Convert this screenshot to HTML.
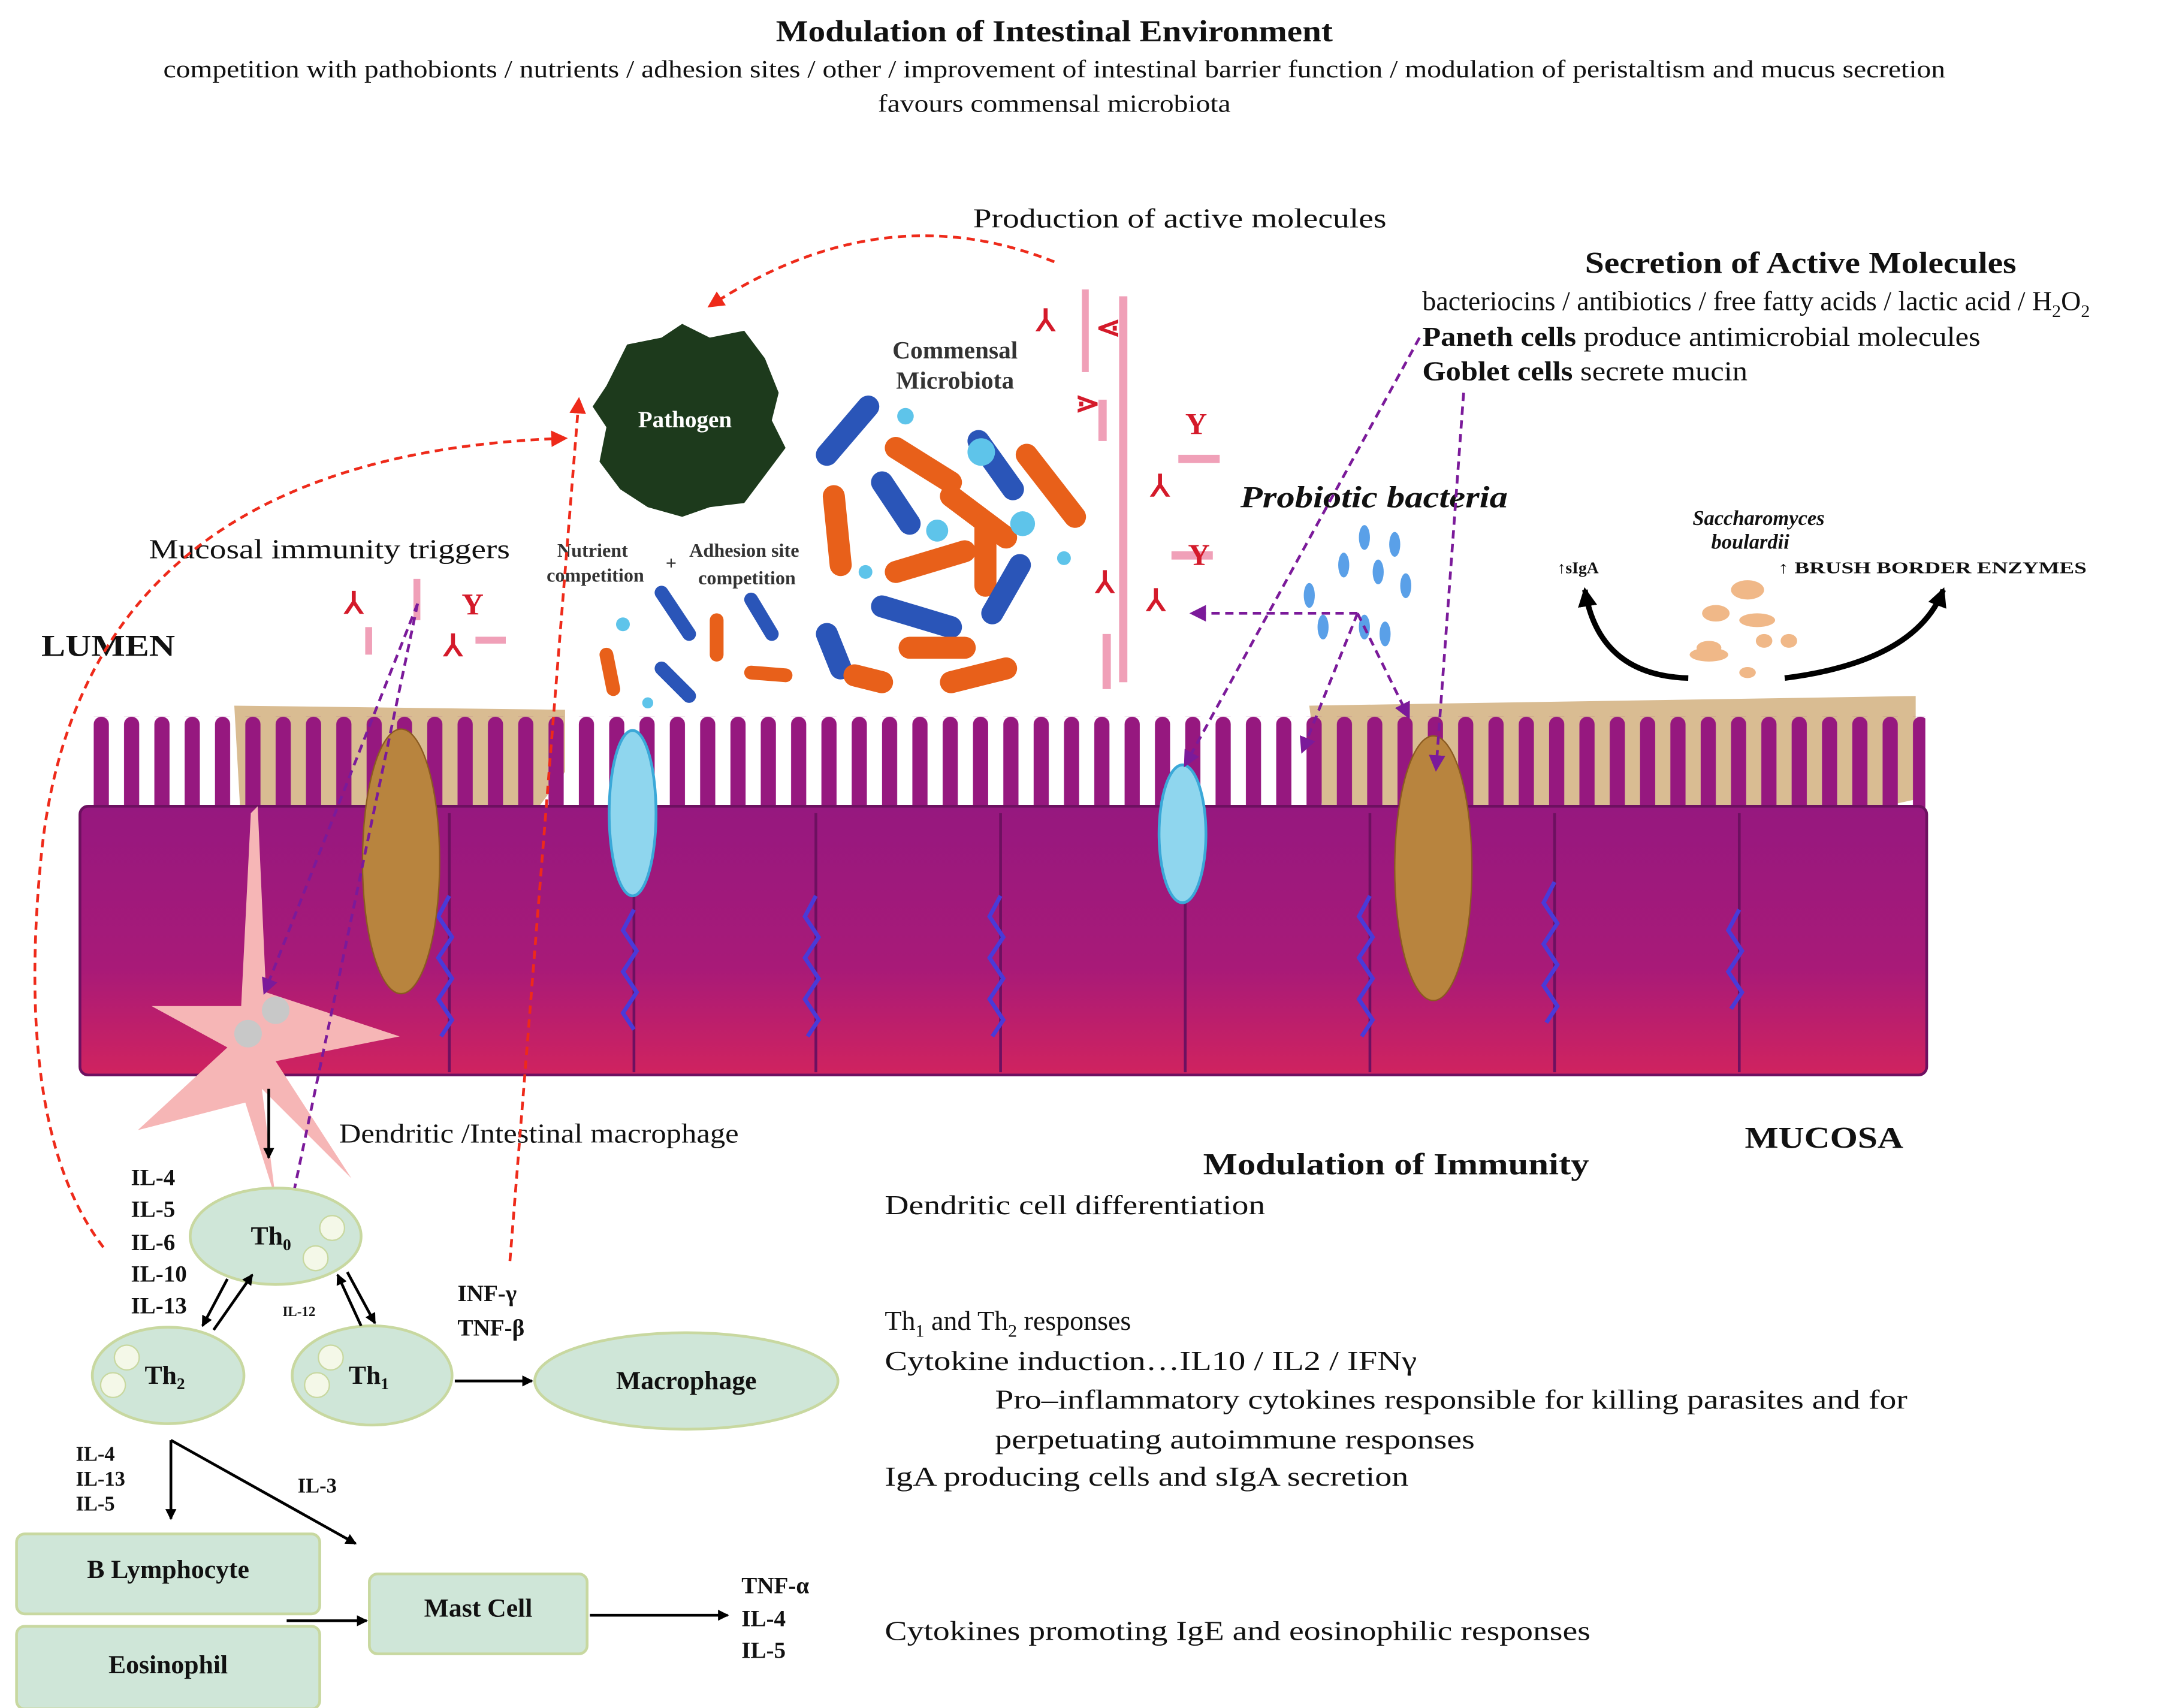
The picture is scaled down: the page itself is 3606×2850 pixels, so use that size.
<!DOCTYPE html>
<html><head><meta charset="utf-8"><style>
html,body{margin:0;padding:0;background:#fff}
svg{display:block}
text{font-family:"Liberation Serif",serif;fill:#111}
</style></head><body>
<svg width="3606" height="2850" viewBox="0 0 1568 1239.3" preserveAspectRatio="none" xmlns="http://www.w3.org/2000/svg">
<defs>
<linearGradient id="cell" x1="0" y1="0" x2="0" y2="1">
<stop offset="0" stop-color="#96187f"/><stop offset="0.6" stop-color="#a81a78"/><stop offset="1" stop-color="#d0235f"/></linearGradient>
<pattern id="villi" x="62" y="520" width="22" height="80" patternUnits="userSpaceOnUse">
<rect x="6" y="0" width="11" height="90" rx="5.5" fill="#96187f"/>
</pattern>
<marker id="ab" markerWidth="8" markerHeight="8" refX="7" refY="4" orient="auto" markerUnits="userSpaceOnUse"><path d="M0,0 L8,4 L0,8z" fill="#000"/></marker>
<marker id="ar" markerWidth="12" markerHeight="12" refX="10" refY="6" orient="auto" markerUnits="userSpaceOnUse"><path d="M0,0 L12,6 L0,12z" fill="#ee2a1a"/></marker>
<marker id="ap" markerWidth="12" markerHeight="12" refX="10" refY="6" orient="auto" markerUnits="userSpaceOnUse"><path d="M0,0 L12,6 L0,12z" fill="#7b1a9a"/></marker>
<marker id="ak" markerWidth="14" markerHeight="14" refX="12" refY="7" orient="auto" markerUnits="userSpaceOnUse"><path d="M0,0 L14,7 L0,14z" fill="#000"/></marker>
</defs>

<!-- Header text -->
<text x="765" y="30" font-size="22" font-weight="bold" text-anchor="middle" textLength="404" lengthAdjust="spacingAndGlyphs">Modulation of Intestinal Environment</text>
<text x="765" y="56" font-size="18" text-anchor="middle" textLength="1293" lengthAdjust="spacingAndGlyphs">competition with pathobionts / nutrients / adhesion sites / other / improvement of intestinal barrier function / modulation of peristaltism and mucus secretion</text>
<text x="765" y="81" font-size="18" text-anchor="middle" textLength="256" lengthAdjust="spacingAndGlyphs">favours commensal microbiota</text>
<text x="706" y="165" font-size="20" textLength="300" lengthAdjust="spacingAndGlyphs">Production of active molecules</text>
<text x="1150" y="198" font-size="22" font-weight="bold" textLength="313" lengthAdjust="spacingAndGlyphs">Secretion of Active Molecules</text>
<text x="1032" y="225" font-size="20">bacteriocins / antibiotics / free fatty acids / lactic acid / H<tspan font-size="13" dy="5">2</tspan><tspan dy="-5">O</tspan><tspan font-size="13" dy="5">2</tspan></text>
<text x="1032" y="251" font-size="20" textLength="405" lengthAdjust="spacingAndGlyphs"><tspan font-weight="bold">Paneth cells</tspan> produce antimicrobial molecules</text>
<text x="1032" y="276" font-size="20" textLength="236" lengthAdjust="spacingAndGlyphs"><tspan font-weight="bold">Goblet cells</tspan> secrete mucin</text>

<!-- mucus -->
<path d="M170,512 L410,515 L410,560 L380,600 L175,600z" fill="#c9a064" opacity="0.7"/>
<path d="M950,512 L1390,505 L1390,580 L1300,600 L960,590z" fill="#c9a064" opacity="0.7"/>
<!-- epithelium -->
<rect x="62" y="520" width="1335" height="70" fill="url(#villi)"/>
<rect x="58" y="585" width="1340" height="195" rx="6" fill="url(#cell)" stroke="#6d1060" stroke-width="2"/>
<g stroke="#6d1060" stroke-width="2">
<line x1="326" y1="590" x2="326" y2="778"/><line x1="460" y1="590" x2="460" y2="778"/><line x1="592" y1="590" x2="592" y2="778"/><line x1="726" y1="590" x2="726" y2="778"/><line x1="860" y1="590" x2="860" y2="778"/><line x1="994" y1="590" x2="994" y2="778"/><line x1="1128" y1="590" x2="1128" y2="778"/><line x1="1262" y1="590" x2="1262" y2="778"/></g>
<g stroke="#4a3ad8" stroke-width="3" fill="none">
<path d="M326,650 l-8,15 l10,15 l-10,15 l10,15 l-10,15 l10,15 l-8,12"/>
<path d="M460,660 l-8,15 l10,15 l-10,15 l10,15 l-10,15 l8,12"/>
<path d="M592,650 l-8,15 l10,15 l-10,15 l10,15 l-10,15 l10,15 l-8,12"/>
<path d="M726,650 l-8,15 l10,15 l-10,15 l10,15 l-10,15 l10,15 l-8,12"/>
<path d="M994,650 l-8,15 l10,15 l-10,15 l10,15 l-10,15 l10,15 l-8,12"/>
<path d="M1128,640 l-8,15 l10,15 l-10,15 l10,15 l-10,15 l10,15 l-8,12"/>
<path d="M1262,660 l-8,15 l10,15 l-10,15 l10,15 l-8,12"/></g>
<ellipse cx="291" cy="625" rx="28" ry="96" fill="#b8843e" stroke="#8a5a20"/>
<ellipse cx="1040" cy="630" rx="28" ry="96" fill="#b8843e" stroke="#8a5a20"/>
<ellipse cx="459" cy="590" rx="17" ry="60" fill="#8fd6ee" stroke="#3aa8d8" stroke-width="2"/>
<ellipse cx="858" cy="605" rx="17" ry="50" fill="#8fd6ee" stroke="#3aa8d8" stroke-width="2"/>

<!-- pathogen -->
<path d="M440,280 L455,250 L480,245 L495,235 L515,245 L540,240 L555,260 L565,285 L560,305 L570,325 L555,345 L540,365 L515,368 L495,375 L470,368 L450,355 L435,335 L440,310 L430,295z" fill="#1d3a1c"/>
<text x="497" y="310" font-family="Liberation Sans,sans-serif" font-size="17" font-weight="bold" style="fill:#fff" text-anchor="middle">Pathogen</text>
<text x="693" y="260" font-family="Liberation Sans,sans-serif" font-size="18" font-weight="bold" text-anchor="middle" style="fill:#333">Commensal</text>
<text x="693" y="282" font-family="Liberation Sans,sans-serif" font-size="18" font-weight="bold" text-anchor="middle" style="fill:#333">Microbiota</text>

<!-- bacteria -->
<g stroke-linecap="round" fill="none" stroke-width="16">
<line x1="600" y1="330" x2="630" y2="295" stroke="#2a55b8"/>
<line x1="650" y1="325" x2="690" y2="350" stroke="#e8601a"/>
<line x1="710" y1="320" x2="735" y2="355" stroke="#2a55b8"/>
<line x1="605" y1="360" x2="610" y2="410" stroke="#e8601a"/>
<line x1="640" y1="350" x2="660" y2="380" stroke="#2a55b8"/>
<line x1="690" y1="360" x2="730" y2="390" stroke="#e8601a"/>
<line x1="745" y1="330" x2="780" y2="375" stroke="#e8601a"/>
<line x1="650" y1="415" x2="700" y2="400" stroke="#e8601a"/>
<line x1="715" y1="380" x2="715" y2="425" stroke="#e8601a"/>
<line x1="740" y1="410" x2="720" y2="445" stroke="#2a55b8"/>
<line x1="640" y1="440" x2="690" y2="455" stroke="#2a55b8"/>
<line x1="660" y1="470" x2="700" y2="470" stroke="#e8601a"/>
<line x1="690" y1="495" x2="730" y2="485" stroke="#e8601a"/>
<line x1="600" y1="460" x2="610" y2="485" stroke="#2a55b8"/>
<line x1="620" y1="490" x2="640" y2="495" stroke="#e8601a"/>
<line x1="480" y1="430" x2="500" y2="460" stroke="#2a55b8" stroke-width="10"/>
<line x1="520" y1="450" x2="520" y2="475" stroke="#e8601a" stroke-width="10"/>
<line x1="545" y1="435" x2="560" y2="460" stroke="#2a55b8" stroke-width="10"/>
<line x1="440" y1="475" x2="445" y2="500" stroke="#e8601a" stroke-width="10"/>
<line x1="480" y1="485" x2="500" y2="505" stroke="#2a55b8" stroke-width="10"/>
<line x1="545" y1="488" x2="570" y2="490" stroke="#e8601a" stroke-width="10"/>
</g>
<g fill="#5ec4ea"><circle cx="657" cy="302" r="6"/><circle cx="712" cy="328" r="10"/><circle cx="680" cy="385" r="8"/><circle cx="742" cy="380" r="9"/><circle cx="628" cy="415" r="5"/><circle cx="772" cy="405" r="5"/><circle cx="452" cy="453" r="5"/><circle cx="470" cy="510" r="4"/></g>
<!-- molecules column -->
<g fill="#f0a0b8"><rect x="785" y="210" width="5" height="60"/><rect x="812" y="215" width="6" height="280"/><rect x="797" y="290" width="6" height="30"/><rect x="855" y="330" width="30" height="6"/><rect x="800" y="460" width="6" height="40"/><rect x="850" y="400" width="30" height="6"/></g>
<g font-family="Liberation Sans,sans-serif" font-weight="bold" font-size="22"><text x="752" y="240" style="fill:#d41a2a">⅄</text><text x="795" y="245" style="fill:#d41a2a">⋖</text><text x="780" y="300" style="fill:#d41a2a">⋗</text><text x="860" y="315" style="fill:#d41a2a">Y</text><text x="835" y="360" style="fill:#d41a2a">⅄</text><text x="795" y="430" style="fill:#d41a2a">⅄</text><text x="862" y="410" style="fill:#d41a2a">Y</text><text x="832" y="443" style="fill:#d41a2a">⅄</text><text x="250" y="445" style="fill:#d41a2a">⅄</text><text x="335" y="446" style="fill:#d41a2a">Y</text><text x="322" y="476" style="fill:#d41a2a">⅄</text></g>
<g fill="#f0a0b8"><rect x="300" y="420" width="5" height="30"/><rect x="345" y="462" width="22" height="5"/><rect x="265" y="455" width="5" height="20"/></g>

<text x="108" y="405" font-size="20" textLength="262" lengthAdjust="spacingAndGlyphs">Mucosal immunity triggers</text>
<text x="30" y="476" font-size="22" font-weight="bold" textLength="97" lengthAdjust="spacingAndGlyphs">LUMEN</text>
<text x="430" y="404" font-family="Liberation Sans,sans-serif" font-size="14" font-weight="bold" text-anchor="middle" style="fill:#333">Nutrient</text>
<text x="432" y="422" font-family="Liberation Sans,sans-serif" font-size="14" font-weight="bold" text-anchor="middle" style="fill:#333">competition</text>
<text x="483" y="413" font-family="Liberation Sans,sans-serif" font-size="14" font-weight="bold" style="fill:#333">+</text>
<text x="540" y="404" font-family="Liberation Sans,sans-serif" font-size="14" font-weight="bold" text-anchor="middle" style="fill:#333">Adhesion site</text>
<text x="542" y="424" font-family="Liberation Sans,sans-serif" font-size="14" font-weight="bold" text-anchor="middle" style="fill:#333">competition</text>
<text x="900" y="368" font-size="22" font-weight="bold" font-style="italic" textLength="194" lengthAdjust="spacingAndGlyphs">Probiotic bacteria</text>
<g fill="#5aa0e8"><ellipse cx="990" cy="390" rx="4" ry="9"/><ellipse cx="1012" cy="395" rx="4" ry="9"/><ellipse cx="975" cy="410" rx="4" ry="9"/><ellipse cx="1000" cy="415" rx="4" ry="9"/><ellipse cx="950" cy="432" rx="4" ry="9"/><ellipse cx="1020" cy="425" rx="4" ry="9"/><ellipse cx="960" cy="455" rx="4" ry="9"/><ellipse cx="990" cy="455" rx="4" ry="9"/><ellipse cx="1005" cy="460" rx="4" ry="9"/></g>
<text x="1276" y="381" font-size="15" font-weight="bold" font-style="italic" text-anchor="middle">Saccharomyces</text>
<text x="1270" y="398" font-size="15" font-weight="bold" font-style="italic" text-anchor="middle">boulardii</text>
<text x="1130" y="416" font-size="12" font-weight="bold">↑sIgA</text>
<text x="1290" y="416" font-size="12" font-weight="bold" textLength="224" lengthAdjust="spacingAndGlyphs">↑ BRUSH BORDER ENZYMES</text>
<g fill="#f0b888"><ellipse cx="1268" cy="428" rx="12" ry="7"/><ellipse cx="1245" cy="445" rx="10" ry="6"/><ellipse cx="1275" cy="450" rx="13" ry="5"/><ellipse cx="1240" cy="470" rx="9" ry="5"/><ellipse cx="1280" cy="465" rx="6" ry="5"/><ellipse cx="1298" cy="465" rx="6" ry="5"/><ellipse cx="1240" cy="475" rx="14" ry="5"/><ellipse cx="1268" cy="488" rx="6" ry="4"/></g>
<path d="M1225,492 Q1160,490 1150,428" stroke="#000" stroke-width="4" fill="none" marker-end="url(#ak)"/>
<path d="M1295,492 Q1390,480 1410,428" stroke="#000" stroke-width="4" fill="none" marker-end="url(#ak)"/>

<!-- dendritic cell -->
<g fill="#f6b6b6">
<path d="M187,585 L193,720 L290,752 L200,770 L255,855 L190,790 L200,870 L178,800 L100,820 L165,760 L110,730 L175,730 L182,590z"/>
<circle cx="190" cy="750" r="22"/>
</g>
<circle cx="200" cy="733" r="10" fill="#c8c8c8"/><circle cx="180" cy="750" r="10" fill="#c8c8c8"/>
<line x1="195" y1="790" x2="195" y2="840" stroke="#000" stroke-width="2" marker-end="url(#ab)"/>
<text x="246" y="829" font-size="20" textLength="290" lengthAdjust="spacingAndGlyphs">Dendritic /Intestinal macrophage</text>

<!-- dashed arrows -->
<path d="M765,190 Q640,140 515,222" stroke="#ee2a1a" stroke-width="2" stroke-dasharray="6,4" fill="none" marker-end="url(#ar)"/>
<path d="M75,905 Q10,820 30,620 Q60,330 410,318" stroke="#ee2a1a" stroke-width="2" stroke-dasharray="6,4" fill="none" marker-end="url(#ar)"/>
<path d="M370,915 L420,290" stroke="#ee2a1a" stroke-width="2" stroke-dasharray="6,4" fill="none" marker-end="url(#ar)"/>
<path d="M303,438 L210,880" stroke="#7b1a9a" stroke-width="2" stroke-dasharray="6,4" fill="none" marker-end="url(#ap)"/>
<path d="M303,438 L192,720" stroke="#7b1a9a" stroke-width="2" stroke-dasharray="6,4" fill="none" marker-end="url(#ap)"/>
<path d="M1030,245 L860,555" stroke="#7b1a9a" stroke-width="2" stroke-dasharray="6,4" fill="none" marker-end="url(#ap)"/>
<path d="M1062,285 L1042,558" stroke="#7b1a9a" stroke-width="2" stroke-dasharray="6,4" fill="none" marker-end="url(#ap)"/>
<path d="M985,445 L865,445" stroke="#7b1a9a" stroke-width="2" stroke-dasharray="6,4" fill="none" marker-end="url(#ap)"/>
<path d="M985,445 L945,545" stroke="#7b1a9a" stroke-width="2" stroke-dasharray="6,4" fill="none" marker-end="url(#ap)"/>
<path d="M985,445 L1022,520" stroke="#7b1a9a" stroke-width="2" stroke-dasharray="6,4" fill="none" marker-end="url(#ap)"/>

<!-- immune cells -->
<g fill="#cfe6d8" stroke="#c8d8a0" stroke-width="2">
<ellipse cx="200" cy="897" rx="62" ry="35"/>
<ellipse cx="122" cy="998" rx="55" ry="35"/>
<ellipse cx="270" cy="998" rx="58" ry="36"/>
<ellipse cx="498" cy="1002" rx="110" ry="35"/>
<rect x="12" y="1113" width="220" height="58" rx="6"/>
<rect x="12" y="1180" width="220" height="60" rx="6"/>
<rect x="268" y="1142" width="158" height="58" rx="6"/>
</g>
<g fill="#f4f8e8" stroke="#c8d8a0"><circle cx="241" cy="891" r="9"/><circle cx="229" cy="913" r="9"/><circle cx="92" cy="985" r="9"/><circle cx="82" cy="1005" r="9"/><circle cx="240" cy="985" r="9"/><circle cx="230" cy="1005" r="9"/></g>
<g font-weight="bold" font-size="19">
<text x="182" y="903">Th<tspan font-size="12" dy="4">0</tspan></text>
<text x="105" y="1004">Th<tspan font-size="12" dy="4">2</tspan></text>
<text x="253" y="1004">Th<tspan font-size="12" dy="4">1</tspan></text>
<text x="498" y="1008" text-anchor="middle">Macrophage</text>
<text x="122" y="1145" text-anchor="middle">B Lymphocyte</text>
<text x="122" y="1214" text-anchor="middle">Eosinophil</text>
<text x="347" y="1173" text-anchor="middle">Mast Cell</text>
</g>
<g font-weight="bold" font-size="17">
<text x="95" y="860">IL-4</text><text x="95" y="883">IL-5</text><text x="95" y="907">IL-6</text><text x="95" y="930">IL-10</text><text x="95" y="953">IL-13</text>
<text x="332" y="944">INF-γ</text><text x="332" y="969">TNF-β</text>
<text x="55" y="1060" font-size="15">IL-4</text><text x="55" y="1078" font-size="15">IL-13</text><text x="55" y="1096" font-size="15">IL-5</text>
<text x="216" y="1083" font-size="15">IL-3</text>
<text x="205" y="955" font-size="10">IL-12</text>
<text x="538" y="1156">TNF-α</text><text x="538" y="1180">IL-4</text><text x="538" y="1203">IL-5</text>
</g>
<g stroke="#000" stroke-width="2" fill="none">
<line x1="165" y1="928" x2="147" y2="962" marker-end="url(#ab)"/>
<line x1="155" y1="965" x2="183" y2="925" marker-end="url(#ab)"/>
<line x1="262" y1="962" x2="245" y2="925" marker-end="url(#ab)"/>
<line x1="252" y1="923" x2="272" y2="960" marker-end="url(#ab)"/>
<line x1="330" y1="1002" x2="386" y2="1002" marker-end="url(#ab)"/>
<line x1="124" y1="1045" x2="124" y2="1102" marker-end="url(#ab)"/>
<line x1="124" y1="1045" x2="258" y2="1120" marker-end="url(#ab)"/>
<line x1="208" y1="1176" x2="266" y2="1176" marker-end="url(#ab)"/>
<line x1="428" y1="1172" x2="528" y2="1172" marker-end="url(#ab)"/>
</g>

<!-- right text -->
<text x="1266" y="833" font-size="22" font-weight="bold" textLength="115" lengthAdjust="spacingAndGlyphs">MUCOSA</text>
<text x="873" y="852" font-size="22" font-weight="bold" textLength="280" lengthAdjust="spacingAndGlyphs">Modulation of Immunity</text>
<g font-size="20">
<text x="642" y="881" textLength="276" lengthAdjust="spacingAndGlyphs">Dendritic cell differentiation</text>
<text x="642" y="965">Th<tspan font-size="13" dy="5">1</tspan><tspan dy="-5"> and Th</tspan><tspan font-size="13" dy="5">2</tspan><tspan dy="-5"> responses</tspan></text>
<text x="642" y="994" textLength="386" lengthAdjust="spacingAndGlyphs">Cytokine induction…IL10 / IL2  / IFNγ</text>
<text x="722" y="1022" textLength="662" lengthAdjust="spacingAndGlyphs">Pro–inflammatory cytokines responsible for killing parasites and for</text>
<text x="722" y="1051" textLength="348" lengthAdjust="spacingAndGlyphs">perpetuating autoimmune responses</text>
<text x="642" y="1078" textLength="380" lengthAdjust="spacingAndGlyphs">IgA producing cells and sIgA secretion</text>
<text x="642" y="1190" textLength="512" lengthAdjust="spacingAndGlyphs">Cytokines promoting IgE and eosinophilic responses</text>
</g>
</svg>
</body></html>
